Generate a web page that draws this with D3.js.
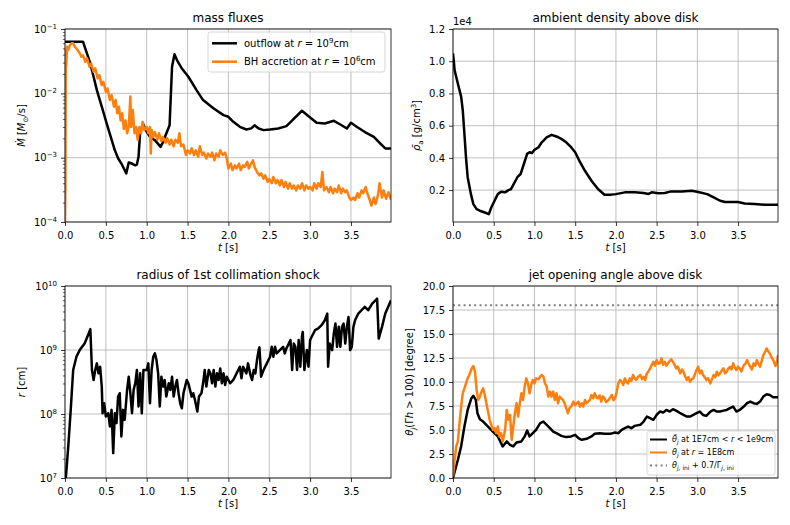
<!DOCTYPE html>
<html>
<head>
<meta charset="utf-8">
<script src="https://cdn.jsdelivr.net/npm/d3@7"></script>
<style>
  body { margin: 0; background: #fff; }
  svg { font-family: "DejaVu Sans", sans-serif; }
</style>
</head>
<body>
<div id="chart"></div>
<script>
// ---- data: [t (s), value] ----
const tMax = 3.99;
const timeTicks = [0, 0.5, 1, 1.5, 2, 2.5, 3, 3.5];

// mass fluxes (Msun/s)
const outflow = [[0,0.0635],[0.22,0.0635],[0.26,0.045],[0.31,0.0292],[0.39,0.0112],[0.45,0.0062],[0.51,0.0034],[0.56,0.0021],[0.61,0.0013],[0.65,0.00098],[0.69,0.00081],[0.75,0.00057],[0.78,0.00084],[0.82,0.00081],[0.86,0.00076],[0.88,0.00078],[0.90,0.00103],[0.92,0.00252],[0.96,0.00328],[1.0,0.00252],[1.04,0.00211],[1.10,0.00187],[1.17,0.00147],[1.20,0.00176],[1.24,0.00238],[1.28,0.0032],[1.31,0.0259],[1.34,0.0404],[1.37,0.0329],[1.43,0.0244],[1.51,0.0181],[1.61,0.0112],[1.69,0.00785],[1.82,0.00582],[1.94,0.00458],[2.0,0.00432],[2.06,0.00361],[2.14,0.00302],[2.22,0.00274],[2.28,0.00285],[2.32,0.00318],[2.37,0.00284],[2.43,0.00268],[2.51,0.00274],[2.61,0.00284],[2.71,0.00309],[2.80,0.0040],[2.90,0.00536],[3.0,0.00422],[3.08,0.00348],[3.18,0.0034],[3.29,0.00374],[3.37,0.00328],[3.45,0.00284],[3.50,0.00348],[3.57,0.00302],[3.67,0.00250],[3.78,0.00211],[3.86,0.00166],[3.92,0.00139],[3.99,0.00139]];
const bhAccretion = [[0.000,1.0e-4],[0.005,3.5e-4],[0.010,0.047],[0.015,0.026],[0.025,0.053],[0.04,0.047],[0.06,0.056],[0.08,0.060],[0.10,0.060],[0.12,0.053],[0.15,0.048],[0.18,0.042],[0.20,0.037],[0.22,0.039],[0.25,0.031],[0.27,0.035],[0.30,0.026],[0.32,0.029],[0.35,0.0217],[0.37,0.0244],[0.40,0.0171],[0.42,0.0192],[0.45,0.0134],[0.47,0.0151],[0.50,0.0106],[0.52,0.0119],[0.55,0.0079],[0.57,0.0094],[0.60,0.0062],[0.62,0.0079],[0.64,0.0049],[0.66,0.0062],[0.68,0.0038],[0.70,0.0049],[0.72,0.0028],[0.74,0.0038],[0.76,0.0024],[0.78,0.0030],[0.80,0.0089],[0.81,0.0030],[0.83,0.0055],[0.85,0.0024],[0.87,0.0030],[0.89,0.0019],[0.91,0.0030],[0.93,0.0024],[0.95,0.0036],[0.97,0.0027],[1.00,0.0030],[1.02,0.0024],[1.04,0.0030],[1.05,0.00116],[1.06,0.0027],[1.08,0.0021],[1.10,0.0025],[1.13,0.0019],[1.15,0.0024],[1.18,0.0018],[1.20,0.0021],[1.23,0.0017],[1.25,0.0020],[1.28,0.0016],[1.30,0.0019],[1.33,0.0015],[1.35,0.0019],[1.38,0.0017],[1.40,0.0024],[1.42,0.0015],[1.45,0.0016],[1.48,0.0011],[1.50,0.0013],[1.53,0.00116],[1.55,0.0014],[1.58,0.0011],[1.60,0.0013],[1.63,0.00103],[1.65,0.0015],[1.68,0.0011],[1.70,0.0012],[1.73,0.00097],[1.75,0.00116],[1.78,0.00103],[1.80,0.0012],[1.83,0.00091],[1.85,0.00116],[1.88,0.00103],[1.90,0.0013],[1.93,0.0011],[1.96,0.0012],[1.98,0.00097],[2.00,0.00068],[2.03,0.00081],[2.05,0.00064],[2.08,0.00076],[2.10,0.00068],[2.13,0.00081],[2.15,0.00064],[2.18,0.00076],[2.20,0.00072],[2.23,0.00086],[2.25,0.00068],[2.28,0.00081],[2.30,0.00091],[2.32,0.00072],[2.35,0.0006],[2.38,0.00053],[2.40,0.00057],[2.43,0.00047],[2.45,0.00053],[2.48,0.00042],[2.50,0.00047],[2.53,0.0004],[2.55,0.0005],[2.58,0.0004],[2.60,0.00045],[2.63,0.00037],[2.65,0.00045],[2.68,0.00035],[2.70,0.00042],[2.73,0.00033],[2.75,0.0004],[2.78,0.00033],[2.80,0.00037],[2.83,0.00031],[2.85,0.00037],[2.88,0.00033],[2.90,0.0004],[2.93,0.00031],[2.95,0.00037],[2.98,0.00033],[3.00,0.00035],[3.03,0.00031],[3.05,0.0004],[3.08,0.00033],[3.10,0.0004],[3.13,0.00035],[3.15,0.0006],[3.17,0.00031],[3.20,0.00035],[3.23,0.00029],[3.25,0.00035],[3.28,0.00028],[3.30,0.00033],[3.33,0.00029],[3.35,0.00037],[3.38,0.00028],[3.40,0.00033],[3.43,0.00029],[3.45,0.00031],[3.48,0.00024],[3.50,0.00022],[3.53,0.00024],[3.55,0.00022],[3.58,0.00028],[3.60,0.00024],[3.63,0.00031],[3.65,0.00028],[3.68,0.00035],[3.70,0.00028],[3.73,0.00022],[3.75,0.00018],[3.78,0.00024],[3.80,0.00019],[3.83,0.00026],[3.85,0.0004],[3.88,0.00024],[3.90,0.00031],[3.93,0.00023],[3.96,0.00029],[3.99,0.00022]];

// ambient density above disk (g/cm^3)
const density = [[0,10480],[0.01,10000],[0.02,9440],[0.06,8600],[0.10,7800],[0.12,6950],[0.14,5500],[0.16,4000],[0.18,2800],[0.22,1750],[0.25,1130],[0.29,820],[0.33,720],[0.39,610],[0.44,510],[0.47,920],[0.51,1340],[0.55,1750],[0.59,1900],[0.64,1860],[0.68,2000],[0.71,2050],[0.75,2420],[0.79,2800],[0.83,3000],[0.87,3620],[0.91,4250],[0.94,4350],[0.97,4300],[1.0,4500],[1.05,4660],[1.09,4970],[1.15,5280],[1.21,5430],[1.27,5330],[1.33,5180],[1.39,4970],[1.45,4660],[1.50,4350],[1.56,3730],[1.62,3200],[1.70,2580],[1.78,2070],[1.86,1710],[1.93,1710],[2.0,1750],[2.11,1860],[2.23,1860],[2.34,1820],[2.40,1760],[2.44,1860],[2.52,1800],[2.60,1820],[2.68,1920],[2.81,1920],[2.93,1960],[3.01,1880],[3.12,1750],[3.20,1550],[3.28,1340],[3.34,1260],[3.42,1260],[3.50,1260],[3.58,1170],[3.70,1130],[3.83,1090],[3.99,1090]];

// radius of 1st collimation shock (cm)
const shockRadius = [[0.01,1e7],[0.04,3.12e7],[0.07,1.16e8],[0.10,4.87e8],[0.14,7.85e8],[0.18,9.96e8],[0.24,1.26e9],[0.29,1.81e9],[0.31,2.12e9],[0.33,4.87e8],[0.35,3.4e8],[0.37,4.87e8],[0.39,6.18e8],[0.41,4.32e8],[0.43,5.48e8],[0.45,2.68e8],[0.46,1.03e8],[0.48,1.47e8],[0.50,9.14e7],[0.53,1.03e8],[0.55,6.38e7],[0.57,1.16e8],[0.59,2.45e7],[0.61,1.03e8],[0.63,7.2e7],[0.65,1.87e8],[0.67,2.11e8],[0.69,4.46e7],[0.71,1.16e8],[0.73,8.11e7],[0.76,2.38e8],[0.78,3.83e8],[0.80,2.11e8],[0.82,1.03e8],[0.84,2.38e8],[0.86,3.02e8],[0.88,4.87e8],[0.90,1.31e8],[0.92,4.32e8],[0.94,1.03e8],[0.96,4.87e8],[1.00,4.87e8],[1.02,6.18e8],[1.04,1.47e8],[1.06,4.87e8],[1.08,7.85e8],[1.10,8.85e8],[1.12,6.97e8],[1.14,4.32e8],[1.16,1.31e8],[1.18,3.83e8],[1.20,2.68e8],[1.22,3.4e8],[1.24,1.87e8],[1.27,3.02e8],[1.29,2.38e8],[1.31,3.83e8],[1.33,1.87e8],[1.35,2.68e8],[1.37,3.4e8],[1.39,2.11e8],[1.41,1.47e8],[1.43,1.23e8],[1.45,2.11e8],[1.47,2.68e8],[1.49,3.4e8],[1.51,3.02e8],[1.53,2.38e8],[1.55,1.87e8],[1.57,2.11e8],[1.59,1.67e8],[1.62,1.09e8],[1.64,1.87e8],[1.67,2.11e8],[1.69,3.02e8],[1.71,4.87e8],[1.73,2.68e8],[1.76,4.87e8],[1.78,4.32e8],[1.80,3.02e8],[1.82,4.87e8],[1.84,2.68e8],[1.86,4.32e8],[1.88,3.4e8],[1.90,5.16e8],[1.92,3.02e8],[1.94,4.32e8],[1.96,2.84e8],[1.98,3.83e8],[2.02,3.02e8],[2.06,3.4e8],[2.10,4.32e8],[2.12,4.87e8],[2.14,5.48e8],[2.16,3.61e8],[2.18,5.48e8],[2.22,4.32e8],[2.24,6.18e8],[2.27,4.05e8],[2.29,3.4e8],[2.31,4.87e8],[2.33,4.32e8],[2.35,6.97e8],[2.37,9.96e8],[2.38,1.1e9],[2.40,3.83e8],[2.43,4.87e8],[2.47,6.18e8],[2.51,7.85e8],[2.53,1.12e9],[2.55,7.85e8],[2.57,1.12e9],[2.59,8.85e8],[2.63,9.96e8],[2.67,1.12e9],[2.69,8.85e8],[2.71,1.06e9],[2.73,1.19e9],[2.76,1.43e9],[2.78,4.87e8],[2.80,1.26e9],[2.82,1.12e9],[2.84,4.87e8],[2.86,1.43e9],[2.88,5.48e8],[2.90,1.61e9],[2.91,1.92e9],[2.93,4.87e8],[2.96,9.96e8],[2.98,5.48e8],[3.00,1.43e9],[3.02,1.61e9],[3.06,2.04e9],[3.10,2.17e9],[3.14,2.44e9],[3.18,2.92e9],[3.21,3.71e9],[3.22,5.48e8],[3.24,1.26e9],[3.27,9.96e8],[3.29,1.81e9],[3.31,2.59e9],[3.33,1.12e9],[3.35,2.3e9],[3.37,1.12e9],[3.39,2.3e9],[3.41,2.59e9],[3.43,1.26e9],[3.45,2.3e9],[3.47,3.29e9],[3.49,9.96e8],[3.51,1.12e9],[3.53,2.3e9],[3.55,2.92e9],[3.59,3.71e9],[3.63,4.18e9],[3.67,4.71e9],[3.71,4.18e9],[3.76,5.31e9],[3.80,5.98e9],[3.82,6.35e9],[3.84,1.51e9],[3.88,2.3e9],[3.92,3.71e9],[3.99,5.98e9]];

// jet opening angle (degree)
const thetaMean = [[0,0],[0.06,1.9],[0.10,3.29],[0.14,5.36],[0.18,7.09],[0.225,8.3],[0.25,8.55],[0.28,8.13],[0.30,6.75],[0.33,6.12],[0.37,5.88],[0.43,5.36],[0.49,4.84],[0.55,4.33],[0.61,3.29],[0.66,3.81],[0.70,3.46],[0.74,3.29],[0.78,3.7],[0.84,3.81],[0.88,4.33],[0.91,4.95],[0.94,4.33],[0.98,4.67],[1.02,5.02],[1.07,5.71],[1.11,5.88],[1.15,5.54],[1.19,5.19],[1.23,4.84],[1.27,4.67],[1.33,4.39],[1.39,4.26],[1.45,4.33],[1.50,4.5],[1.54,4.15],[1.58,3.98],[1.64,4.08],[1.70,4.33],[1.74,4.6],[1.80,4.67],[1.86,4.6],[1.93,4.6],[1.99,4.74],[2.03,4.67],[2.07,5.02],[2.11,5.19],[2.15,5.36],[2.19,5.19],[2.23,5.43],[2.30,5.54],[2.34,5.88],[2.38,6.4],[2.42,6.23],[2.46,6.06],[2.50,6.57],[2.54,6.92],[2.58,6.82],[2.62,7.09],[2.66,6.92],[2.70,7.16],[2.74,7.02],[2.79,6.75],[2.83,6.57],[2.87,6.4],[2.91,6.4],[2.95,6.57],[2.99,6.75],[3.03,6.92],[3.07,6.57],[3.11,6.47],[3.16,6.92],[3.20,7.09],[3.24,6.92],[3.28,6.92],[3.32,7.02],[3.36,7.09],[3.40,7.27],[3.44,7.44],[3.48,6.92],[3.52,7.09],[3.57,7.44],[3.61,7.79],[3.65,7.96],[3.69,7.79],[3.73,7.72],[3.77,7.96],[3.81,8.48],[3.85,8.72],[3.89,8.65],[3.93,8.41],[3.99,8.41]];
const theta1e8 = [[0,0.17],[0.02,1.9],[0.04,3.29],[0.06,3.81],[0.08,5.71],[0.10,7.44],[0.12,8.82],[0.14,9.34],[0.16,9.86],[0.18,10.38],[0.20,10.73],[0.23,11.42],[0.25,11.66],[0.27,11.07],[0.29,9.17],[0.31,8.13],[0.33,8.48],[0.35,9.0],[0.37,9.34],[0.39,8.65],[0.41,7.79],[0.43,6.92],[0.45,6.06],[0.47,5.54],[0.49,5.02],[0.51,5.19],[0.53,4.67],[0.55,5.36],[0.57,4.33],[0.59,4.67],[0.61,3.81],[0.64,5.02],[0.66,7.09],[0.68,6.06],[0.70,6.57],[0.72,3.98],[0.74,5.36],[0.76,6.75],[0.78,7.79],[0.80,6.4],[0.82,7.79],[0.84,8.82],[0.86,8.13],[0.88,9.52],[0.90,10.38],[0.92,9.86],[0.94,8.82],[0.96,9.69],[0.98,10.21],[1.00,9.86],[1.02,10.38],[1.05,10.28],[1.07,10.55],[1.09,10.73],[1.11,10.55],[1.13,9.86],[1.15,9.52],[1.17,8.48],[1.19,9.0],[1.21,8.48],[1.23,9.0],[1.25,8.13],[1.27,8.82],[1.29,7.79],[1.31,8.48],[1.33,8.3],[1.35,8.13],[1.37,7.79],[1.39,7.27],[1.41,6.75],[1.43,7.27],[1.45,7.44],[1.48,7.96],[1.50,7.61],[1.52,7.79],[1.54,7.96],[1.56,7.44],[1.58,7.79],[1.60,7.44],[1.62,8.13],[1.64,7.79],[1.66,7.96],[1.68,8.13],[1.70,8.65],[1.72,8.3],[1.74,8.82],[1.76,8.4],[1.78,8.3],[1.80,8.6],[1.82,7.96],[1.84,8.5],[1.86,8.3],[1.88,7.9],[1.91,8.13],[1.93,8.4],[1.95,8.65],[1.97,8.1],[1.99,8.3],[2.01,9.0],[2.03,9.86],[2.05,10.21],[2.07,10.03],[2.09,9.7],[2.11,10.38],[2.13,10.0],[2.15,9.86],[2.17,10.38],[2.19,10.1],[2.21,10.73],[2.23,10.4],[2.25,10.21],[2.27,10.5],[2.30,10.73],[2.32,10.3],[2.34,10.55],[2.36,10.2],[2.38,10.9],[2.40,11.1],[2.42,11.42],[2.44,11.8],[2.46,12.11],[2.48,11.7],[2.50,12.28],[2.52,11.9],[2.54,11.94],[2.56,12.46],[2.58,11.8],[2.60,12.11],[2.62,11.7],[2.64,11.94],[2.66,12.2],[2.68,12.35],[2.70,12.11],[2.72,11.8],[2.74,11.42],[2.76,11.6],[2.79,10.9],[2.81,11.3],[2.83,11.07],[2.85,10.6],[2.87,10.21],[2.89,10.5],[2.91,10.03],[2.93,10.3],[2.95,10.38],[2.97,10.8],[2.99,11.25],[3.01,11.59],[3.03,10.9],[3.05,11.2],[3.07,10.73],[3.09,10.5],[3.11,10.21],[3.13,10.4],[3.16,9.86],[3.18,10.3],[3.20,10.73],[3.22,10.5],[3.24,11.07],[3.26,10.7],[3.28,10.9],[3.30,11.2],[3.32,11.42],[3.34,10.9],[3.36,11.07],[3.38,11.4],[3.40,11.59],[3.42,11.3],[3.44,11.94],[3.46,11.5],[3.48,11.25],[3.50,11.6],[3.52,11.42],[3.54,11.1],[3.57,11.76],[3.59,11.9],[3.61,12.28],[3.63,11.9],[3.65,11.59],[3.67,11.3],[3.69,11.94],[3.71,11.7],[3.73,12.28],[3.75,11.9],[3.77,11.59],[3.79,12.2],[3.81,12.8],[3.83,13.1],[3.85,13.49],[3.87,13.2],[3.89,12.98],[3.91,12.6],[3.93,12.28],[3.95,11.9],[3.96,11.66],[3.98,12.2],[3.99,12.8]];
const thetaLimit = 18.0;

// tick values
const mdotTicks = [1e-4, 1e-3, 1e-2, 1e-1];
const densityTicks = [2000, 4000, 6000, 8000, 10000, 12000];
const radiusTicks = [1e7, 1e8, 1e9, 1e10];
const angleTicks = [0, 2.5, 5, 7.5, 10, 12.5, 15, 17.5, 20];

// ---- layout ----
const W = 790, H = 525;
const orange = "#ff7f0e";
const lw = 2.5;
const svg = d3.select("#chart").append("svg").attr("width", W).attr("height", H);

// text with italic / super / subscript pieces
function rich(sel, parts) {
    let shift = 0;
    parts.forEach(p => {
        const s = p.up || 0;
        const ts = sel.append("tspan").text(p.t);
        if (s !== shift) ts.attr("dy", -(s - shift));
        if (p.i) ts.attr("font-style", "italic");
        if (p.size) ts.attr("font-size", p.size);
        shift = s;
    });
}

function logMinor(lo, hi) {
    const out = [];
    for (let e = lo; e < hi; e++)
        for (let k = 2; k <= 9; k++) out.push(k * Math.pow(10, e));
    return out;
}

const sup = t => ({t: t, up: 4, size: 7});
const powLabel = d => {
    const e = Math.round(Math.log10(d));
    return [{t: "10"}, sup(e < 0 ? "\u2212" + (-e) : String(e))];
};

function drawPanel(c) {
    const b = c.box;
    const x = d3.scaleLinear().domain([0, tMax]).range([b.x0, b.x1]);
    const y = c.y.range([b.y1, b.y0]);
    const g = svg.append("g");

    svg.append("clipPath").attr("id", "clip-" + c.id)
        .append("rect").attr("x", b.x0).attr("y", b.y0)
        .attr("width", b.x1 - b.x0).attr("height", b.y1 - b.y0);

    // grid
    g.append("g").selectAll("line").data(timeTicks).join("line")
        .attr("x1", d => x(d)).attr("x2", d => x(d))
        .attr("y1", b.y0).attr("y2", b.y1)
        .attr("stroke", "#b0b0b0").attr("stroke-width", 0.8);
    g.append("g").selectAll("line").data(c.yTicks).join("line")
        .attr("x1", b.x0).attr("x2", b.x1)
        .attr("y1", d => y(d)).attr("y2", d => y(d))
        .attr("stroke", "#b0b0b0").attr("stroke-width", 0.8);

    // curves
    const line = d3.line().x(d => x(d[0])).y(d => y(d[1]));
    const sg = g.append("g").attr("clip-path", `url(#clip-${c.id})`);
    c.series.forEach(s => {
        const data = s.data || [[0, s.level], [tMax, s.level]];
        sg.append("path").datum(data)
            .attr("d", line)
            .attr("fill", "none")
            .attr("stroke", s.color)
            .attr("stroke-width", s.width)
            .attr("stroke-linejoin", "round")
            .attr("stroke-dasharray", s.dash || null);
    });

    // x axis
    const xa = g.append("g").attr("transform", `translate(0,${b.y1})`)
        .call(d3.axisBottom(x).tickValues(timeTicks).tickFormat(d3.format(".1f"))
            .tickSize(4).tickPadding(6).tickSizeOuter(0));
    xa.select(".domain").remove();
    xa.attr("font-family", null).attr("font-size", 10);
    xa.selectAll("line").attr("stroke-width", 0.8);
    xa.selectAll("text").attr("fill", "#000");

    // y axis
    const ya = g.append("g").attr("transform", `translate(${b.x0},0)`)
        .call(d3.axisLeft(y).tickValues(c.yTicks).tickFormat(() => "")
            .tickSize(4).tickPadding(4).tickSizeOuter(0));
    ya.select(".domain").remove();
    ya.attr("font-family", null).attr("font-size", 10);
    ya.selectAll("line").attr("stroke-width", 0.8);
    ya.selectAll(".tick text").attr("fill", "#000").each(function (d) {
        rich(d3.select(this), c.yFmt(d));
    });
    if (c.minor) {
        const ym = g.append("g").attr("transform", `translate(${b.x0},0)`)
            .call(d3.axisLeft(y).tickValues(c.minor).tickSize(2.2).tickSizeOuter(0));
        ym.select(".domain").remove();
        ym.selectAll("text").remove();
        ym.selectAll("line").attr("stroke-width", 0.6);
    }

    // frame
    g.append("rect").attr("x", b.x0).attr("y", b.y0)
        .attr("width", b.x1 - b.x0).attr("height", b.y1 - b.y0)
        .attr("fill", "none").attr("stroke", "#000").attr("stroke-width", 0.8);

    // title and labels
    const mid = (b.x0 + b.x1) / 2;
    svg.append("text").attr("x", mid).attr("y", b.y0 - 7.5)
        .attr("text-anchor", "middle").attr("font-size", 12).text(c.title);
    rich(svg.append("text").attr("x", mid).attr("y", b.y1 + 29)
        .attr("text-anchor", "middle").attr("font-size", 10),
        [{t: "t", i: true}, {t: " [s]"}]);
    rich(svg.append("text")
        .attr("transform", `translate(${b.x0 - c.ylabGap},${(b.y0 + b.y1) / 2}) rotate(-90)`)
        .attr("text-anchor", "middle").attr("font-size", 10), c.ylabel);

    if (c.legend) drawLegend(c.legend);
}

function drawLegend(L) {
    const g = svg.append("g");
    g.append("rect").attr("x", L.x).attr("y", L.y).attr("width", L.w).attr("height", L.h)
        .attr("rx", 2.5).attr("fill", "#fff").attr("fill-opacity", 0.8)
        .attr("stroke", "#cccccc").attr("stroke-width", 0.8);
    L.items.forEach((it, i) => {
        const cy = L.y + L.first + i * L.step;
        g.append("line").attr("x1", L.x + L.pad).attr("x2", L.x + L.pad + L.len)
            .attr("y1", cy).attr("y2", cy)
            .attr("stroke", it.color).attr("stroke-width", it.width)
            .attr("stroke-dasharray", it.dash || null);
        rich(g.append("text").attr("x", L.x + L.pad + L.len + L.gap).attr("y", cy + L.size * 0.36)
            .attr("font-size", L.size), it.parts);
    });
}

// ---- panels ----
drawPanel({
    id: "mdot",
    box: {x0: 65, x1: 391, y0: 29, y1: 222},
    y: d3.scaleLog().domain([1e-4, 1e-1]),
    yTicks: mdotTicks, yFmt: powLabel, minor: logMinor(-4, -1),
    title: "mass fluxes", ylabGap: 40,
    ylabel: [{t: "M\u0307", i: true}, {t: " ["}, {t: "M", i: true}, {t: "\u2299", up: -2.5, size: 7}, {t: "/s]", up: 0}],
    series: [
        {data: outflow, color: "#000", width: lw},
        {data: bhAccretion, color: orange, width: lw}
    ],
    legend: {
        x: 208, y: 32, w: 177, h: 40, pad: 4, len: 25, gap: 7, first: 11.3, step: 18.4, size: 10,
        items: [
            {color: "#000", width: lw, parts: [{t: "outflow at "}, {t: "r", i: true}, {t: " = 10"}, sup("9"), {t: "cm"}]},
            {color: orange, width: lw, parts: [{t: "BH accretion at "}, {t: "r", i: true}, {t: " = 10"}, sup("6"), {t: "cm"}]}
        ]
    }
});

drawPanel({
    id: "rho",
    box: {x0: 453, x1: 778, y0: 29, y1: 222},
    y: d3.scaleLinear().domain([20, 12000]),
    yTicks: densityTicks, yFmt: d => [{t: (d / 1e4).toFixed(1)}],
    title: "ambient density above disk", ylabGap: 33,
    ylabel: [{t: "\u03c1\u0304", i: true}, {t: "a", up: -2.5, size: 7}, {t: " [g/cm"}, sup("3"), {t: "]"}],
    series: [{data: density, color: "#000", width: lw}]
});
svg.append("text").attr("x", 453).attr("y", 25).attr("font-size", 10).text("1e4");

drawPanel({
    id: "shock",
    box: {x0: 65, x1: 391, y0: 286, y1: 478},
    y: d3.scaleLog().domain([1e7, 1e10]),
    yTicks: radiusTicks, yFmt: powLabel, minor: logMinor(7, 10),
    title: "radius of 1st collimation shock", ylabGap: 40,
    ylabel: [{t: "r", i: true}, {t: " [cm]"}],
    series: [{data: shockRadius, color: "#000", width: lw}]
});

drawPanel({
    id: "theta",
    box: {x0: 453, x1: 778, y0: 286, y1: 478},
    y: d3.scaleLinear().domain([0, 20]),
    yTicks: angleTicks, yFmt: d => [{t: d.toFixed(1)}],
    title: "jet opening angle above disk", ylabGap: 40,
    ylabel: [{t: "\u03b8", i: true}, {t: "j", i: true, up: -2.5, size: 7}, {t: "(\u0393"}, {t: "h", i: true}, {t: " > 100) [degree]"}],
    series: [
        {data: thetaMean, color: "#000", width: lw},
        {data: theta1e8, color: orange, width: lw},
        {level: thetaLimit, color: "#808080", width: 2, dash: "2,3.3"}
    ],
    legend: {
        x: 647, y: 431, w: 128, h: 44, pad: 3, len: 17, gap: 5, first: 8.5, step: 13, size: 8,
        items: [
            {color: "#000", width: 2, parts: [{t: "\u03b8\u0304", i: true}, {t: "j", i: true, up: -2, size: 6}, {t: " at 1E7cm < "}, {t: "r", i: true}, {t: " < 1e9cm"}]},
            {color: orange, width: 2, parts: [{t: "\u03b8", i: true}, {t: "j", i: true, up: -2, size: 6}, {t: " at "}, {t: "r", i: true}, {t: " = 1E8cm"}]},
            {color: "#808080", width: 2, dash: "2,3.3", parts: [{t: "\u03b8", i: true}, {t: "j", i: true, up: -2, size: 6}, {t: ", ini", up: -2, size: 6}, {t: " + 0.7/\u0393"}, {t: "j", i: true, up: -2, size: 6}, {t: ", ini", up: -2, size: 6}]}
        ]
    }
});
</script>
</body>
</html>
